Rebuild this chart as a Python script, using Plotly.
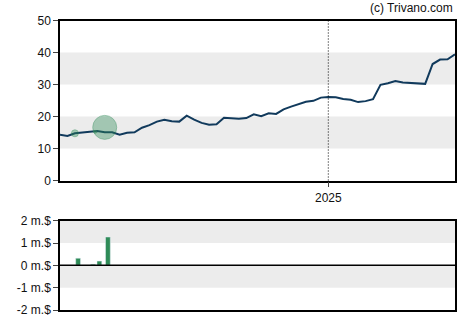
import pandas as pd
import plotly.graph_objects as go

start = "2024-04-24"
dates = pd.date_range(start, periods=54, freq="7D")
prices = [14.3, 13.9, 14.75, 15.06, 15.16, 15.47, 15.06, 15.06, 14.3, 14.9,
          15.06, 16.5, 17.3, 18.4, 19.0, 18.5, 18.4, 20.25, 19.0, 18.0,
          17.4, 17.6, 19.6, 19.5, 19.3, 19.5, 20.7, 20.1, 21.0, 20.8,
          22.25, 23.1, 23.8, 24.6, 24.9, 25.9, 26.1, 26.0, 25.5, 25.25,
          24.5, 24.8, 25.4, 29.9, 30.4, 31.1, 30.6, 30.5, 30.3, 30.2,
          36.4, 37.8, 37.9, 39.4]

trade_dates = ["2024-05-11", "2024-05-25", "2024-05-31", "2024-06-08"]
trade_vals = [0.32, 0.05, 0.19, 1.27]          # million $
marker_dates = ["2024-05-08", "2024-05-27", "2024-06-05"]
marker_prices = [14.75, 15.2, 16.6]
marker_sizes = [7, 3, 24]

y_ticks_top = [0, 10, 20, 30, 40, 50]
y_ticks_bot = [-2, -1, 0, 1, 2]
y_ticktext_bot = ["-2 m.$", "-1 m.$", "0 m.$", "1 m.$", "2 m.$"]

xr = ["2024-04-24", "2025-04-30"]
line_color = "#113a5c"
green = "#2e8b57"
band = "#ececec"
font = dict(family="Liberation Sans, Arial", size=12, color="#111")

fig = go.Figure()
fig.add_trace(go.Scatter(x=dates, y=prices, mode="lines",
                         line=dict(color=line_color, width=2), xaxis="x", yaxis="y",
                         hoverinfo="skip"))
fig.add_trace(go.Scatter(x=pd.to_datetime(marker_dates), y=marker_prices, mode="markers",
                         marker=dict(size=marker_sizes, color="rgba(46,139,87,0.55)",
                                     line=dict(color="rgba(46,139,87,0.6)", width=1)),
                         xaxis="x", yaxis="y", hoverinfo="skip"))
fig.add_trace(go.Bar(x=pd.to_datetime(trade_dates), y=trade_vals, marker_color=green,
                     width=4.5 * 86400000, xaxis="x2", yaxis="y2", hoverinfo="skip"))

H = 325.0
shapes = []
for y0, y1 in [(10, 20), (30, 40)]:
    shapes.append(dict(type="rect", xref="x domain", yref="y", x0=0, x1=1, y0=y0, y1=y1,
                       fillcolor=band, line=dict(width=0), layer="below"))
for y0, y1 in [(1, 2), (-1, 0)]:
    shapes.append(dict(type="rect", xref="x2 domain", yref="y2", x0=0, x1=1, y0=y0, y1=y1,
                       fillcolor=band, line=dict(width=0), layer="below"))
shapes.append(dict(type="line", xref="x", yref="y domain", x0="2025-01-01", x1="2025-01-01",
                   y0=0, y1=1, line=dict(color="black", width=1, dash="1px,2px")))
shapes.append(dict(type="line", xref="x2 domain", yref="y2", x0=0, x1=1, y0=0, y1=0,
                   line=dict(color="black", width=1.5)))

fig.update_layout(
    width=470, height=325,
    margin=dict(l=60, r=15, t=0, b=0),
    paper_bgcolor="white", plot_bgcolor="white",
    showlegend=False, font=font,
    shapes=shapes,
    xaxis=dict(domain=[0, 1], range=xr, type="date", anchor="y",
               tickvals=["2025-01-01"], ticktext=["2025"], ticks="outside", ticklen=5,
               showline=True, linecolor="black", linewidth=1.5, mirror=True,
               showgrid=False, zeroline=False, automargin=False),
    yaxis=dict(domain=[(H - 180.5) / H, (H - 20.5) / H], range=[0, 50], anchor="x",
               tickvals=y_ticks_top, ticks="outside", ticklen=5,
               showline=True, linecolor="black", linewidth=1.5, mirror=True,
               showgrid=False, zeroline=False, automargin=False),
    xaxis2=dict(domain=[0, 1], range=xr, type="date", anchor="y2",
                showticklabels=False, ticks="",
                showline=True, linecolor="black", linewidth=1.5, mirror=True,
                showgrid=False, zeroline=False, automargin=False),
    yaxis2=dict(domain=[(H - 310) / H, (H - 220.7) / H], range=[-2, 2], anchor="x2",
                tickvals=y_ticks_bot, ticktext=y_ticktext_bot, ticks="outside", ticklen=5,
                showline=True, linecolor="black", linewidth=1.5, mirror=True,
                showgrid=False, zeroline=False, automargin=False),
    annotations=[dict(text="(c) Trivano.com", xref="paper", yref="paper", x=1, y=(H - 8) / H,
                      xanchor="right", yanchor="middle", showarrow=False,
                      font=dict(family="Liberation Sans, Arial", size=12, color="#111"))],
)

fig.write_html("out.html")
